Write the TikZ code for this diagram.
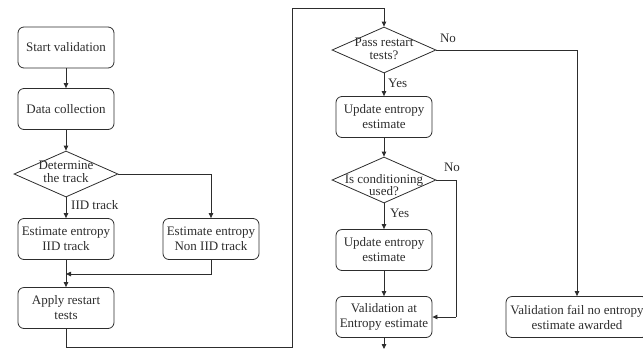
\documentclass[tikz,border=0pt]{standalone}
\usepackage{fontspec}
\setmainfont{Liberation Serif}
\usetikzlibrary{shapes.geometric,arrows.meta}
\definecolor{ink}{RGB}{45,45,45}
\begin{document}
\begin{tikzpicture}[x=1pt,y=-1pt,
  font=\fontsize{13}{15}\selectfont,
  every node/.style={text=ink},
  proc/.style={draw=ink, line width=0.8pt, rounded corners=6pt, minimum width=96pt, minimum height=41pt, align=center, inner sep=1pt},
  decide/.style={draw=ink, line width=0.8pt, diamond, minimum width=104pt, minimum height=46pt, inner sep=0pt},
  dtext/.style={align=center, inner sep=0pt, font=\fontsize{13}{12.5}\selectfont},
  conn/.style={draw=ink, line width=0.8pt, -{Triangle[length=5pt,width=4.5pt]}},
  plain/.style={draw=ink, line width=0.8pt},
  lbl/.style={inner sep=0pt}]
\useasboundingbox (0,0) rectangle (643,349);

% left column
\node[proc] (start) at (66,47.5) {Start validation};
\node[proc] (data) at (66,109) {Data collection};
\node[decide] (det) at (66,174) {};
\node[dtext] (dett) at (66,172) {Determine\\the track};
\node[proc] (iid) at (66,239) {Estimate entropy\\IID track};
\node[proc] (noniid) at (211,239) {Estimate entropy\\Non IID track};
\node[proc] (apply) at (66,308) {Apply restart\\tests};

% right column
\node[decide] (pass) at (384,50) {};
\node[dtext] (passt) at (384,49) {Pass restart\\tests?};
\node[proc] (upd1) at (384,117) {Update entropy\\estimate};
\node[decide] (cond) at (384,180) {};
\node[dtext] (condt) at (384,185) {Is conditioning\\used?};
\node[proc] (upd2) at (384,250) {Update entropy\\estimate};
\node[proc] (valid) at (384,317) {Validation at\\Entropy estimate};
\node[proc, minimum width=142pt] (fail) at (577,317) {Validation fail no entropy\\estimate awarded};

% labels
\node[lbl, anchor=west] (liid) at (71,205) {IID track};
\node[lbl] (lno1) at (448,38) {No};
\node[lbl, anchor=west] (lyes1) at (388,83) {Yes};
\node[lbl] (lno2) at (452,167) {No};
\node[lbl, anchor=west] (lyes2) at (390,213) {Yes};

% helper coordinates
\coordinate (merge) at (66,274);
\coordinate (b1) at (66,347);
\coordinate (b2) at (292,347);
\coordinate (b3) at (292,8);
\coordinate (b4) at (384,8);
\coordinate (n1) at (456,180);
\coordinate (n2) at (456,317);
\coordinate (endp) at (384,349);

% connectors
\draw[conn] (start) -- (data);
\draw[conn] (data) -- (det);
\draw[conn] (det) -- (iid);
\draw[conn] (det.east) -| (noniid.north);
\draw[conn] (noniid.south) |- (merge);
\draw[conn] (iid) -- (apply);
\draw[plain] (apply.south) -- (b1) -- (b2) -- (b3) -- (b4);
\draw[conn] (b4) -- (pass.north);
\draw[conn] (pass.east) -| (fail.north);
\draw[conn] (pass) -- (upd1);
\draw[conn] (upd1) -- (cond);
\draw[conn] (cond) -- (upd2);
\draw[conn] (upd2) -- (valid);
\draw[plain] (cond.east) -- (n1) -- (n2);
\draw[conn] (n2) -- (valid.east);
\draw[conn] (valid.south) -- (endp);
\end{tikzpicture}
\end{document}
